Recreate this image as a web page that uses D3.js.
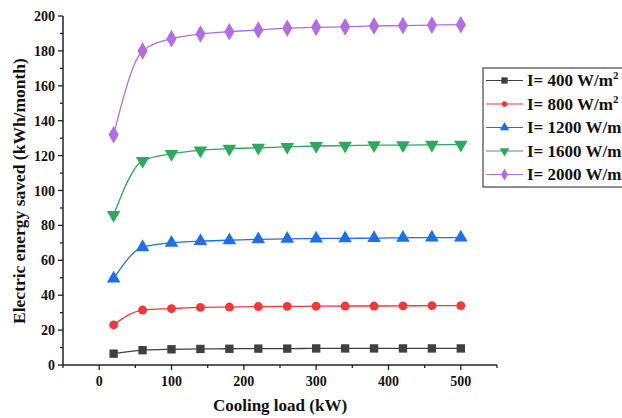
<!DOCTYPE html>
<html>
<head>
<meta charset="utf-8">
<script src="https://cdn.jsdelivr.net/npm/d3@7"></script>
<style>
  body { margin: 0; background: #fff; }
  svg text { font-family: "Liberation Serif", "Times New Roman", serif; font-weight: bold; fill: #111; }
</style>
</head>
<body>
<svg id="chart" width="622" height="418"></svg>
<script>
// cooling load (kW)
var loads = [20, 60, 100, 140, 180, 220, 260, 300, 340, 380, 420, 460, 500];

var i400  = [6.5, 8.5, 9, 9.2, 9.3, 9.4, 9.4, 9.5, 9.5, 9.5, 9.5, 9.5, 9.5];
var i800  = [23, 31.5, 32.3, 33, 33.2, 33.5, 33.6, 33.7, 33.8, 33.8, 33.9, 34, 34];
var i1200 = [49.5, 67.5, 70, 71, 71.5, 72, 72.3, 72.5, 72.6, 72.7, 72.9, 73, 73];
var i1600 = [86, 117, 121, 123, 124, 124.5, 125, 125.5, 125.7, 126, 126, 126.2, 126.3];
var i2000 = [132, 180, 187, 189.7, 191, 192, 193, 193.5, 193.8, 194.3, 194.5, 194.8, 195];

var seriesNames = ["I= 400 W/m", "I= 800 W/m", "I= 1200 W/m", "I= 1600 W/m", "I= 2000 W/m"];
var seriesColors = ["#404040", "#f03a3a", "#1f6fe6", "#2ea85e", "#b06ee0"];
var seriesShapes = [d3.symbolSquare, d3.symbolCircle, d3.symbolTriangle, "down", d3.symbolDiamond];
var seriesValues = [i400, i800, i1200, i1600, i2000];
var markerSizes = [70, 62, 80, 80, 90];

var xTicks = [0, 100, 200, 300, 400, 500];
var yTicks = [0, 20, 40, 60, 80, 100, 120, 140, 160, 180, 200];

var svg = d3.select("#chart");
var pLeft = 63, pRight = 497, pTop = 16, pBottom = 365;

var x = d3.scaleLinear().domain([-50, 550]).range([pLeft, pRight]);
var y = d3.scaleLinear().domain([0, 200]).range([pBottom, pTop]);

// minor + major ticks
var g = svg.append("g");
d3.range(-50, 551, 50).forEach(function(v){
	g.append("line").attr("x1", x(v)).attr("x2", x(v))
		.attr("y1", pBottom).attr("y2", pBottom + (v % 100 === 0 ? 5 : 3))
		.attr("stroke", "#222").attr("stroke-width", 1.3);
});
d3.range(0, 201, 10).forEach(function(v){
	g.append("line").attr("x1", pLeft).attr("x2", pLeft - (v % 20 === 0 ? 5 : 3))
		.attr("y1", y(v)).attr("y2", y(v))
		.attr("stroke", "#222").attr("stroke-width", 1.3);
});
g.append("line").attr("x1", pLeft).attr("x2", pRight).attr("y1", pBottom).attr("y2", pBottom)
	.attr("stroke", "#222").attr("stroke-width", 1.5);
g.append("line").attr("x1", pLeft).attr("x2", pLeft).attr("y1", pTop).attr("y2", pBottom)
	.attr("stroke", "#222").attr("stroke-width", 1.5);

xTicks.forEach(function(v){
	g.append("text").attr("x", x(v)).attr("y", pBottom + 21)
		.attr("text-anchor", "middle").style("font-size", "14px").text(v);
});
yTicks.forEach(function(v){
	g.append("text").attr("x", pLeft - 8).attr("y", y(v) + 5)
		.attr("text-anchor", "end").style("font-size", "14px").text(v);
});

svg.append("text").attr("x", 280).attr("y", 411).attr("text-anchor", "middle")
	.style("font-size", "17px").text("Cooling load (kW)");
svg.append("text").attr("transform", "translate(25,191) rotate(-90)")
	.attr("text-anchor", "middle").style("font-size", "17.5px")
	.text("Electric energy saved (kWh/month)");

var line = d3.line().curve(d3.curveMonotoneX)
	.x(function(d, i){ return x(loads[i]); })
	.y(function(d){ return y(d); });

function marker(sel, k, size, cx, cy){
	var rot = "";
	var type = seriesShapes[k];
	if (type === "down") { type = d3.symbolTriangle; rot = " rotate(180)"; }
	sel.attr("d", d3.symbol().type(type).size(size)())
		.attr("transform", "translate(" + cx + "," + cy + ")" + rot);
}

seriesValues.forEach(function(vals, k){
	svg.append("path").datum(vals).attr("d", line)
		.attr("fill", "none").attr("stroke", seriesColors[k]).attr("stroke-width", 1.3);
	vals.forEach(function(v, i){
		var p = svg.append("path").attr("fill", seriesColors[k]);
		marker(p, k, markerSizes[k], x(loads[i]), y(v));
	});
});

// legend
var lg = svg.append("g");
lg.append("rect").attr("x", 483).attr("y", 68).attr("width", 150).attr("height", 119)
	.attr("fill", "#fff").attr("stroke", "#444").attr("stroke-width", 1.2);
seriesNames.forEach(function(name, k){
	var ly = 80.5 + k * 23.5;
	lg.append("line").attr("x1", 486).attr("x2", 523).attr("y1", ly).attr("y2", ly)
		.attr("stroke", seriesColors[k]).attr("stroke-width", 1.2);
	var p = lg.append("path").attr("fill", seriesColors[k]);
	marker(p, k, k === 1 ? 25 : 40, 504.5, ly);
	var t = lg.append("text").attr("x", 527).attr("y", ly + 5.5).style("font-size", "17px").text(name);
	t.append("tspan").attr("dy", -7).style("font-size", "11px").text("2");
});
</script>
</body>
</html>
